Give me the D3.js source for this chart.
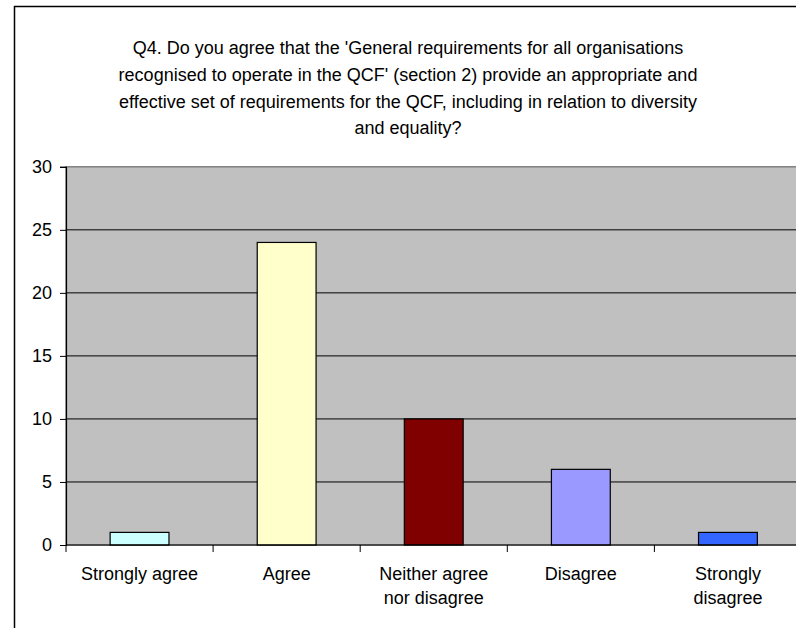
<!DOCTYPE html>
<html lang="en">
<head>
  <meta charset="UTF-8"/>
  <title>Q4 bar chart</title>
  <script src="https://d3js.org/d3.v7.min.js"></script>
  <style>
    body { margin: 0; background: #fff; }
    svg { display: block; font-family: "Liberation Sans", Arial, sans-serif; }
    .ylab text, .cat { font-size: 18px; fill: #000; }
    .title { font-size: 18px; fill: #000; }
  </style>
</head>
<body>
<svg width="796" height="628"></svg>
<script>
  const categories = ['Strongly agree', 'Agree', 'Neither agree nor disagree', 'Disagree', 'Strongly disagree'];
  const counts = [1, 24, 10, 6, 1];
  const colors = ['#CCFFFF', '#FFFFCC', '#800000', '#9999FF', '#3366FF'];
  const yTicks = [0, 5, 10, 15, 20, 25, 30];
  const titleLines = [
    "Q4. Do you agree that the 'General requirements for all organisations",
    "recognised to operate in the QCF' (section 2) provide an appropriate and",
    "effective set of requirements for the QCF, including in relation to diversity",
    "and equality?"
  ];
  // label line breaks as in the picture
  const labelLines = {
    'Strongly agree': ['Strongly agree'],
    'Agree': ['Agree'],
    'Neither agree nor disagree': ['Neither agree', 'nor disagree'],
    'Disagree': ['Disagree'],
    'Strongly disagree': ['Strongly', 'disagree']
  };

  const svg = d3.select('svg');

  // outer chart border (runs off the right and bottom of the picture)
  svg.append('rect')
    .attr('x', 14.5).attr('y', 6.5)
    .attr('width', 820).attr('height', 700)
    .attr('fill', '#fff')
    .attr('stroke', '#000')
    .attr('stroke-width', 1.5);

  const plotL = 66, plotT = 166.8, plotR = 801.5, plotB = 545;

  const x = d3.scaleBand()
    .domain(categories)
    .range([plotL, plotR])
    .paddingInner(0.6)
    .paddingOuter(0.3);

  const xTicks = d3.scaleBand()
    .domain(categories)
    .range([plotL, plotR]);

  const y = d3.scaleLinear()
    .domain([0, 30])
    .range([plotB, plotT]);

  // plot area
  svg.append('rect')
    .attr('x', plotL).attr('y', plotT)
    .attr('width', plotR - plotL).attr('height', plotB - plotT)
    .attr('fill', '#C0C0C0')
    .attr('stroke', '#808080')
    .attr('stroke-width', 1.5);

  // gridlines
  svg.append('g')
    .selectAll('line')
    .data(yTicks.filter(d => d > 0 && d < 30))
    .join('line')
    .attr('x1', plotL).attr('x2', plotR)
    .attr('y1', d => y(d)).attr('y2', d => y(d))
    .attr('stroke', '#000')
    .attr('stroke-width', 1);

  // bars
  svg.append('g')
    .selectAll('rect')
    .data(categories)
    .join('rect')
    .attr('x', d => x(d))
    .attr('y', (d, i) => y(counts[i]))
    .attr('width', x.bandwidth())
    .attr('height', (d, i) => y(0) - y(counts[i]))
    .attr('fill', (d, i) => colors[i])
    .attr('stroke', '#000')
    .attr('stroke-width', 1.2);

  // y axis
  const yAxis = svg.append('g')
    .attr('class', 'ylab')
    .attr('transform', `translate(${plotL}, 0)`)
    .call(d3.axisLeft(y).tickValues(yTicks).tickSize(6).tickPadding(8));
  yAxis.select('.domain').attr('stroke', '#000').attr('stroke-width', 1.2);
  yAxis.selectAll('.tick line').attr('stroke', '#000');
  yAxis.attr('font-family', null).attr('font-size', null);

  // x axis (ticks on band edges)
  const xAxis = svg.append('g').attr('transform', `translate(0, ${plotB})`);
  xAxis.append('line')
    .attr('x1', plotL).attr('x2', plotR)
    .attr('stroke', '#000').attr('stroke-width', 1.2);
  xAxis.selectAll('line.tk')
    .data(categories)
    .join('line')
    .attr('class', 'tk')
    .attr('x1', d => xTicks(d)).attr('x2', d => xTicks(d))
    .attr('y1', 0).attr('y2', 7)
    .attr('stroke', '#000');

  const labels = xAxis.selectAll('text.cat')
    .data(categories)
    .join('text')
    .attr('class', 'cat')
    .attr('text-anchor', 'middle')
    .attr('transform', d => `translate(${xTicks(d) + xTicks.bandwidth() / 2}, 35)`);
  labels.selectAll('tspan')
    .data(d => labelLines[d])
    .join('tspan')
    .attr('x', 0)
    .attr('dy', (d, i) => i === 0 ? 0 : 24)
    .text(d => d);

  // title
  svg.append('text')
    .attr('class', 'title')
    .attr('text-anchor', 'middle')
    .selectAll('tspan')
    .data(titleLines)
    .join('tspan')
    .attr('x', 408)
    .attr('y', (d, i) => 54 + i * 26.8)
    .text(d => d);
</script>
</body>
</html>
